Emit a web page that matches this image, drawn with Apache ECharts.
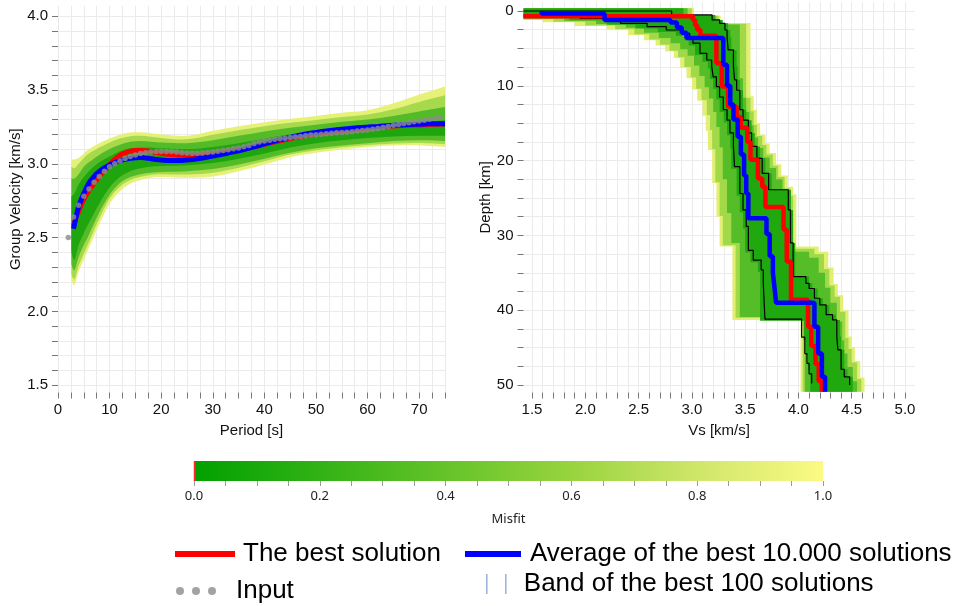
<!DOCTYPE html>
<html>
<head>
<meta charset="utf-8">
<script src="https://cdn.jsdelivr.net/npm/echarts@6/dist/echarts.min.js"></script>
<style>
html, body { margin: 0; padding: 0; background: #ffffff; }
#chart { width: 961px; height: 606px; }
</style>
</head>
<body>
<div id="chart"></div>
<script>
// ---------- Dispersion curve (group velocity vs period) ----------
const inputPeriods = [2,3,4,5,6,7,8,9,10,11,12,13,14,15,16,17,18,19,20,21,22,23,24,25,26,27,28,29,30,31,32,33,34,35,36,37,38,39,40,41,42,43,44,45,46,47,48,49,50,51,52,53,54,55,56,57,58,59,60,61,62,63,64,65,66,67,68,69,70,71,72,73,74];
const inputVelocity = [2.50,2.64,2.72,2.78,2.83,2.875,2.915,2.95,2.98,3.00,3.02,3.036,3.049,3.06,3.07,3.075,3.08,3.083,3.084,3.084,3.083,3.08,3.076,3.073,3.072,3.072,3.073,3.077,3.081,3.086,3.091,3.096,3.102,3.108,3.116,3.125,3.138,3.148,3.155,3.160,3.166,3.17,3.174,3.178,3.182,3.186,3.19,3.195,3.198,3.201,3.204,3.207,3.21,3.212,3.215,3.218,3.222,3.226,3.23,3.235,3.24,3.247,3.254,3.261,3.267,3.273,3.279,3.285,3.29,3.296,3.302,3.308,3.316];

const bestPeriods = [3,4,5,6,7,8,9,10,11,12,13,14,15,16,17,18,19,20,22,24,26,28,30,32,34,36,38,40,45,50,55,60,65,70,75];
const bestVelocity = [2.58,2.68,2.76,2.82,2.87,2.915,2.955,2.995,3.03,3.058,3.075,3.085,3.09,3.091,3.089,3.084,3.078,3.072,3.063,3.058,3.058,3.062,3.069,3.077,3.088,3.10,3.115,3.132,3.172,3.203,3.225,3.243,3.256,3.264,3.27];

const avgPeriods = [3,3.5,4,5,6,7,8,9,10,11,12,13,14,15,16,17,18,19,20,22,24,26,28,30,32,34,36,38,40,42,44,46,48,50,52,54,56,58,60,62,64,66,68,70,72,75];
const avgVelocity = [2.56,2.64,2.71,2.80,2.87,2.915,2.948,2.972,2.992,3.008,3.02,3.03,3.037,3.042,3.043,3.04,3.035,3.03,3.026,3.022,3.023,3.029,3.04,3.053,3.067,3.081,3.097,3.115,3.135,3.155,3.172,3.188,3.202,3.213,3.223,3.231,3.238,3.244,3.249,3.254,3.259,3.263,3.266,3.269,3.271,3.272];

// envelopes of the modelled curves, grouped by misfit (worst first)
const dispBandPeriods = [2.6,3.2,4,5,6,8,10,12,14,16,18,20,25,30,35,40,45,50,55,60,65,70,75];
const dispUpper = [
  [3.03,3.03,3.04,3.07,3.10,3.14,3.172,3.198,3.212,3.214,3.208,3.20,3.19,3.225,3.255,3.282,3.305,3.325,3.347,3.363,3.41,3.47,3.525],
  [2.98,2.97,3.00,3.04,3.07,3.11,3.145,3.172,3.187,3.19,3.184,3.176,3.166,3.197,3.227,3.255,3.278,3.298,3.318,3.335,3.37,3.42,3.465],
  [2.90,2.90,2.93,2.98,3.01,3.06,3.10,3.13,3.15,3.155,3.15,3.145,3.14,3.16,3.19,3.22,3.245,3.265,3.285,3.30,3.325,3.355,3.385],
  [2.78,2.80,2.86,2.91,2.95,3.01,3.05,3.085,3.105,3.11,3.11,3.105,3.10,3.115,3.14,3.17,3.20,3.22,3.235,3.25,3.265,3.28,3.295]
];
const dispLower = [
  [2.21,2.18,2.27,2.35,2.43,2.59,2.73,2.815,2.865,2.89,2.905,2.91,2.905,2.915,2.95,2.995,3.045,3.075,3.098,3.115,3.124,3.125,3.115],
  [2.25,2.22,2.31,2.39,2.47,2.63,2.765,2.845,2.89,2.912,2.925,2.93,2.928,2.94,2.973,3.017,3.063,3.092,3.113,3.128,3.138,3.141,3.133],
  [2.32,2.28,2.37,2.45,2.52,2.67,2.79,2.87,2.91,2.93,2.94,2.945,2.95,2.965,2.995,3.035,3.075,3.105,3.125,3.14,3.155,3.16,3.155],
  [2.40,2.35,2.45,2.53,2.60,2.73,2.84,2.91,2.95,2.97,2.98,2.985,2.99,3.005,3.035,3.07,3.11,3.14,3.16,3.175,3.185,3.19,3.19]
];

// ---------- Shear-velocity profiles: [Vs, top depth of layer] ----------
const bestProfile = [[1.42,0.7],[3.01,0.7],[3.03,1.2],[3.05,1.9],[3.08,2.5],[3.23,3.3],[3.28,7.0],[3.34,10.1],[3.42,12.8],[3.46,14.2],[3.52,15.6],[3.55,17.5],[3.62,19.9],[3.66,22.4],[3.69,23.5],[3.86,26.2],[3.89,29.2],[3.93,33.5],[4.09,38.6],[4.12,42.2],[4.16,44.8],[4.19,47.2],[4.22,49.5],[4.22,50.9]];
const avgProfile = [[1.59,0],[2.18,0.35],[2.80,1.2],[2.86,1.55],[2.905,2.2],[2.95,2.9],[3.295,3.6],[3.33,7.2],[3.36,10.0],[3.39,12.5],[3.43,14.5],[3.46,16.8],[3.49,19.2],[3.51,22.0],[3.53,24.4],[3.70,27.7],[3.73,29.8],[3.76,32.8],[3.775,35],[3.79,36.9],[4.15,39.0],[4.185,42.2],[4.22,45.8],[4.25,48.9],[4.25,50.9]];
const band100Slow = [[1.42,0.67],[1.95,0.67],[2.33,0.98],[2.58,1.65],[2.76,2.1],[2.92,2.54],[2.98,3.0],[3.01,3.65],[3.076,4.3],[3.14,5.66],[3.186,6.55],[3.20,7.4],[3.23,8.8],[3.26,10.1],[3.295,11.5],[3.33,13.2],[3.357,14.6],[3.39,16.3],[3.40,18.1],[3.45,20.8],[3.48,24.4],[3.51,26.6],[3.53,28.8],[3.576,32],[3.65,33.3],[3.67,34.6],[3.686,36.4],[4.03,41.2],[4.06,43.6],[4.08,45.8],[4.10,47.1],[4.124,48.5],[4.124,49.8]];
const band100Fast = [[1.42,0],[2.81,0],[3.19,0.53],[3.26,1.2],[3.31,1.65],[3.33,2.54],[3.34,3.43],[3.39,5.2],[3.40,7.4],[3.42,9.2],[3.45,10.6],[3.48,13.2],[3.53,14.6],[3.56,16.3],[3.61,18.1],[3.66,19.7],[3.72,21.7],[3.905,23.9],[3.925,26.6],[3.95,31],[4.07,35.5],[4.10,36.4],[4.15,37.1],[4.20,38.4],[4.26,39.3],[4.32,40.6],[4.36,41.3],[4.37,43.5],[4.40,45.3],[4.43,47.9],[4.48,48.9],[4.48,50.0]];

// envelopes of the tested profiles, grouped by misfit (worst first)
const vsBandSlow = [
  [[1.42,-0.35],[1.6,1.2],[1.9,1.5],[2.2,2.0],[2.4,2.5],[2.55,3.2],[2.66,3.9],[2.75,4.6],[2.83,5.4],[2.89,6.3],[2.95,7.6],[3.0,9],[3.05,10.5],[3.1,12],[3.13,14],[3.15,16],[3.19,18.6],[3.23,23],[3.26,27.5],[3.29,31.5],[3.38,31.5],[3.38,41.3],[4.02,41.3],[4.02,50.9]],
  [[1.42,-0.35],[1.42,1.05],[1.7,1.15],[2.0,1.45],[2.28,1.95],[2.46,2.45],[2.6,3.1],[2.7,3.8],[2.79,4.5],[2.87,5.3],[2.93,6.2],[2.99,7.5],[3.04,8.9],[3.09,10.4],[3.14,11.9],[3.17,13.9],[3.19,15.9],[3.22,18.5],[3.26,22.9],[3.29,27.4],[3.32,31.3],[3.41,31.3],[3.41,41.0],[4.04,41.0],[4.04,50.9]],
  [[1.42,-0.35],[1.42,0.95],[1.8,1.05],[2.1,1.3],[2.38,1.75],[2.55,2.25],[2.69,2.9],[2.8,3.6],[2.89,4.3],[2.96,5.1],[3.02,6.0],[3.07,7.3],[3.12,8.7],[3.16,10.2],[3.2,11.7],[3.23,13.5],[3.26,15.5],[3.29,18.2],[3.33,22.5],[3.37,27],[3.4,31],[3.45,31],[3.45,40.9],[4.06,40.9],[4.06,50.9]],
  [[1.42,-0.35],[1.42,0.85],[1.85,0.95],[2.2,1.25],[2.47,1.85],[2.68,2.35],[2.85,2.8],[2.93,3.3],[2.97,3.9],[3.03,4.6],[3.1,5.9],[3.15,6.8],[3.17,7.7],[3.2,9.1],[3.23,10.4],[3.26,11.8],[3.3,13.5],[3.33,14.9],[3.36,16.6],[3.37,18.4],[3.42,21.1],[3.45,24.7],[3.48,26.9],[3.5,29.1],[3.55,32.3],[3.62,33.6],[3.64,34.9],[3.66,41.4],[4.05,41.4],[4.07,44],[4.09,46],[4.11,48],[4.12,50.9]]
];
const vsBandFast = [
  [[1.42,-0.35],[3.02,-0.35],[3.02,0.6],[3.27,0.6],[3.27,1.6],[3.55,1.6],[3.55,9.6],[3.58,11.4],[3.61,13.2],[3.64,15],[3.69,16.5],[3.73,17.7],[3.79,19],[3.84,20.5],[3.9,22],[3.95,23.5],[3.98,24.5],[3.98,31.5],[4.19,31.5],[4.28,32.2],[4.33,34.3],[4.37,36.5],[4.42,38],[4.47,40],[4.5,43.5],[4.53,45],[4.58,46.8],[4.62,49],[4.66,50.9]],
  [[1.42,-0.35],[3.0,-0.35],[3.0,0.65],[3.25,0.65],[3.25,1.7],[3.51,1.7],[3.51,9.8],[3.55,11.6],[3.58,13.4],[3.61,15.2],[3.66,16.7],[3.7,17.9],[3.76,19.2],[3.81,20.7],[3.87,22.2],[3.92,23.7],[3.95,24.7],[3.95,31.8],[4.15,31.8],[4.24,32.5],[4.29,34.5],[4.34,36.7],[4.39,38.2],[4.44,40.2],[4.47,43.7],[4.5,45.2],[4.55,47],[4.59,49.2],[4.63,50.9]],
  [[1.42,-0.35],[2.96,-0.35],[2.96,0.7],[3.22,0.7],[3.22,1.8],[3.45,1.8],[3.45,6],[3.48,9],[3.51,11.6],[3.54,13.5],[3.58,15.3],[3.62,16.9],[3.67,18.3],[3.73,19.6],[3.79,21],[3.85,22.5],[3.9,24],[3.93,25],[3.93,32.2],[4.1,32.2],[4.19,33],[4.25,35],[4.3,37],[4.36,39],[4.41,41.5],[4.43,44],[4.46,45.8],[4.51,47.6],[4.55,49.5],[4.58,50.9]],
  [[1.42,-0.35],[2.92,-0.35],[2.92,0.53],[3.22,0.53],[3.29,1.2],[3.34,1.65],[3.36,2.54],[3.37,3.43],[3.42,5.2],[3.43,7.4],[3.45,9.2],[3.48,10.6],[3.51,13.2],[3.56,14.6],[3.59,16.3],[3.64,18.1],[3.69,19.7],[3.75,21.7],[3.93,23.9],[3.95,26.6],[3.97,31],[4.1,35.5],[4.13,36.4],[4.18,37.1],[4.23,38.4],[4.29,39.3],[4.35,40.6],[4.39,41.3],[4.4,43.5],[4.43,45.3],[4.46,47.9],[4.51,48.9],[4.53,50.9]]
];

// ---------- Misfit scale ----------
const misfitRange = [0, 1];
const bestMisfit = 0;

// ---------- Axis ticks and labels ----------
const periodTicks = [0,2.5,5,7.5,10,12.5,15,17.5,20,22.5,25,27.5,30,32.5,35,37.5,40,42.5,45,47.5,50,52.5,55,57.5,60,62.5,65,67.5,70,72.5,75];
const periodLabels = [0,10,20,30,40,50,60,70];
const velocityTicks = [1.5,1.6,1.7,1.8,1.9,2.0,2.1,2.2,2.3,2.4,2.5,2.6,2.7,2.8,2.9,3.0,3.1,3.2,3.3,3.4,3.5,3.6,3.7,3.8,3.9,4.0];
const velocityLabels = [1.5,2.0,2.5,3.0,3.5,4.0];
const vsTicks = [1.5,1.6,1.7,1.8,1.9,2.0,2.1,2.2,2.3,2.4,2.5,2.6,2.7,2.8,2.9,3.0,3.1,3.2,3.3,3.4,3.5,3.6,3.7,3.8,3.9,4.0,4.1,4.2,4.3,4.4,4.5,4.6,4.7,4.8,4.9,5.0];
const vsLabels = [1.5,2.0,2.5,3.0,3.5,4.0,4.5,5.0];
const depthTicks = [0,2.5,5,7.5,10,12.5,15,17.5,20,22.5,25,27.5,30,32.5,35,37.5,40,42.5,45,47.5,50];
const depthLabels = [0,10,20,30,40,50];
const misfitTicks = [0,0.05,0.1,0.15,0.2,0.25,0.3,0.35,0.4,0.45,0.5,0.55,0.6,0.65,0.7,0.75,0.8,0.85,0.9,0.95,1.0];
const misfitLabels = [0,0.2,0.4,0.6,0.8,1.0];

// ---------- Styling ----------
const FONT = 'Liberation Sans';
const dispBandColors = ['#e6f17a', '#a6d94b', '#52bb27', '#1fa60e'];
const vsBandColors = ['#e3ef74', '#a2d948', '#55bd28', '#20a80f'];
const misfitStops = [
  { offset: 0, color: '#00a000' },
  { offset: 0.3, color: '#4bbb1f' },
  { offset: 0.6, color: '#98d43e' },
  { offset: 0.8, color: '#cfe66a' },
  { offset: 1, color: '#fbfa85' }
];
const RED = '#ff0000';
const BLUE = '#0000ff';
const GREY = '#8c8c8c';

function axisStyle(ticks, labels, fmt, extra) {
  return Object.assign({
    type: 'value',
    axisLine: { show: false, onZero: false },
    axisTick: { show: true, length: 6, customValues: ticks, lineStyle: { color: '#777', width: 1 } },
    axisLabel: { customValues: labels, formatter: fmt, margin: 10, fontSize: 15, color: '#111', fontFamily: FONT },
    splitLine: { show: true, lineStyle: { color: '#ebebeb', width: 1 } },
    nameLocation: 'middle',
    nameTextStyle: { fontSize: 15, color: '#111', fontFamily: FONT }
  }, extra);
}

// staircase outline: Vs holds down to the next layer top, then jumps
function staircase(pts) {
  const out = [];
  for (let i = 0; i < pts.length; i++) {
    out.push(pts[i]);
    if (i + 1 < pts.length) out.push([pts[i][0], pts[i + 1][1]]);
  }
  return out;
}

// Catmull-Rom curve through pixel points, as cubic path segments
function curveSegments(pts) {
  let d = '';
  for (let i = 0; i < pts.length - 1; i++) {
    const p0 = pts[Math.max(i - 1, 0)], p1 = pts[i], p2 = pts[i + 1], p3 = pts[Math.min(i + 2, pts.length - 1)];
    const c1x = p1[0] + (p2[0] - p0[0]) / 6, c1y = p1[1] + (p2[1] - p0[1]) / 6;
    const c2x = p2[0] - (p3[0] - p1[0]) / 6, c2y = p2[1] - (p3[1] - p1[1]) / 6;
    d += ' C' + c1x + ',' + c1y + ' ' + c2x + ',' + c2y + ' ' + p2[0] + ',' + p2[1];
  }
  return d;
}

const series = [];

// dispersion envelopes
series.push({
  type: 'custom', xAxisIndex: 0, yAxisIndex: 0, silent: true, z: 1,
  data: dispUpper.map((u, k) => [k]),
  renderItem: (params, api) => {
    const k = params.dataIndex;
    const up = dispBandPeriods.map((p, i) => api.coord([p, dispUpper[k][i]]));
    const lo = dispBandPeriods.map((p, i) => api.coord([p, dispLower[k][i]])).reverse();
    const d = 'M' + up[0][0] + ',' + up[0][1] + curveSegments(up) +
      ' L' + lo[0][0] + ',' + lo[0][1] + curveSegments(lo) + ' Z';
    return { type: 'path', shape: { pathData: d }, style: { fill: dispBandColors[k] } };
  }
});

series.push({
  name: 'The best solution', type: 'line', xAxisIndex: 0, yAxisIndex: 0, z: 3,
  color: RED, showSymbol: false, smooth: 0.4, lineStyle: { width: 5, color: RED },
  data: bestPeriods.map((p, i) => [p, bestVelocity[i]])
});
series.push({
  name: 'Average of the best 10.000 solutions', type: 'line', xAxisIndex: 0, yAxisIndex: 0, z: 4,
  color: BLUE, showSymbol: false, smooth: 0.4, lineStyle: { width: 5, color: BLUE },
  data: avgPeriods.map((p, i) => [p, avgVelocity[i]])
});
series.push({
  name: 'Input', type: 'scatter', xAxisIndex: 0, yAxisIndex: 0, z: 5,
  color: GREY, symbol: 'circle', symbolSize: 5.5, itemStyle: { color: GREY },
  data: inputPeriods.map((p, i) => [p, inputVelocity[i]])
});

// Vs envelopes as staircase polygons
series.push({
  type: 'custom', xAxisIndex: 1, yAxisIndex: 1, silent: true, z: 1,
  data: vsBandSlow.map((b, k) => [k]),
  renderItem: (params, api) => {
    const k = params.dataIndex;
    const left = staircase(vsBandSlow[k]);
    const right = staircase(vsBandFast[k]).reverse();
    const pts = left.concat(right).map(p => api.coord(p));
    return { type: 'polygon', shape: { points: pts }, style: { fill: vsBandColors[k] } };
  }
});

[band100Slow, band100Fast].forEach(profile => {
  series.push({
    name: 'Band of the best 100 solutions', type: 'line', xAxisIndex: 1, yAxisIndex: 1, z: 2,
    color: '#000', step: 'start', showSymbol: false, lineStyle: { width: 1.2, color: '#000' },
    data: profile
  });
});
series.push({
  name: 'The best solution', type: 'line', xAxisIndex: 1, yAxisIndex: 1, z: 3,
  color: RED, step: 'start', showSymbol: false, lineStyle: { width: 4.5, color: RED },
  data: bestProfile
});
series.push({
  name: 'Average of the best 10.000 solutions', type: 'line', xAxisIndex: 1, yAxisIndex: 1, z: 4,
  color: BLUE, step: 'start', showSymbol: false, lineStyle: { width: 4.5, color: BLUE },
  data: avgProfile
});

// misfit colour bar
series.push({
  type: 'custom', xAxisIndex: 2, yAxisIndex: 2, silent: true,
  data: [[misfitRange[0], 0]],
  renderItem: (params, api) => {
    const a = api.coord([misfitRange[0], 1]);
    const b = api.coord([misfitRange[1], 0]);
    const m = api.coord([bestMisfit, 0]);
    return {
      type: 'group',
      children: [
        { type: 'rect', shape: { x: a[0], y: a[1], width: b[0] - a[0], height: b[1] - a[1] },
          style: { fill: new echarts.graphic.LinearGradient(0, 0, 1, 0, misfitStops) } },
        { type: 'line', shape: { x1: m[0] + 0.5, y1: a[1], x2: m[0] + 0.5, y2: b[1] },
          style: { stroke: '#ff2a2a', lineWidth: 1.5 } }
      ]
    };
  }
});

const legendText = { fontSize: 26, fontFamily: FONT, color: '#000' };
const dotsIcon = 'path://M0,4A4,4,0,1,1,8,4A4,4,0,1,1,0,4ZM16,4A4,4,0,1,1,24,4A4,4,0,1,1,16,4ZM32,4A4,4,0,1,1,40,4A4,4,0,1,1,32,4Z';
const barsIcon = 'path://M0,0H1.6V20H0ZM19,0H20.6V20H19Z';

const option = {
  animation: false,
  backgroundColor: '#ffffff',
  grid: [
    { left: 58, right: 516, top: 6, bottom: 213.5 },
    { left: 523.5, right: 46.4, top: 2, bottom: 213.5 },
    { left: 194, right: 138, top: 461, height: 20 }
  ],
  xAxis: [
    axisStyle(periodTicks, periodLabels, v => String(v),
      { gridIndex: 0, min: 0, max: 75, name: 'Period [s]', nameGap: 30.5 }),
    axisStyle(vsTicks, vsLabels, v => v.toFixed(1),
      { gridIndex: 1, min: 1.42, max: 5.09, name: 'Vs [km/s]', nameGap: 30.5 }),
    {
      type: 'value', gridIndex: 2, min: 0, max: 1,
      axisLine: { show: false, onZero: false },
      axisTick: { show: true, length: 5, customValues: misfitTicks, lineStyle: { color: '#999' } },
      axisLabel: { customValues: misfitLabels, formatter: v => v.toFixed(1), margin: 9, fontSize: 13, color: '#222', fontFamily: 'Noto Sans' },
      splitLine: { show: false },
      name: 'Misfit', nameLocation: 'middle', nameGap: 32,
      nameTextStyle: { fontSize: 13, color: '#222', fontFamily: 'Noto Sans' }
    }
  ],
  yAxis: [
    axisStyle(velocityTicks, velocityLabels, v => v.toFixed(1),
      { gridIndex: 0, min: 1.45, max: 4.07, name: 'Group Velocity [km/s]', nameGap: 32 }),
    axisStyle(depthTicks, depthLabels, v => String(v),
      { gridIndex: 1, min: -1.2, max: 51, inverse: true, name: 'Depth [km]', nameGap: 28.5 }),
    { type: 'value', gridIndex: 2, min: 0, max: 1, show: false }
  ],
  legend: [
    { left: 175, top: 541, padding: 0, selectedMode: false, itemWidth: 60, itemHeight: 6,
      textStyle: Object.assign({ padding: [0, 0, 0, 3] }, legendText),
      data: [{ name: 'The best solution', icon: 'rect' }] },
    { left: 465, top: 541, padding: 0, selectedMode: false, itemWidth: 56, itemHeight: 6,
      textStyle: Object.assign({ padding: [0, 0, 0, 4] }, legendText),
      data: [{ name: 'Average of the best 10.000 solutions', icon: 'rect' }] },
    { left: 176, top: 578, padding: 0, selectedMode: false, itemWidth: 40, itemHeight: 8,
      textStyle: Object.assign({ padding: [0, 0, 0, 15] }, legendText),
      data: [{ name: 'Input', icon: dotsIcon, itemStyle: { color: GREY } }] },
    { left: 486, top: 571, padding: 0, selectedMode: false, itemWidth: 21, itemHeight: 20,
      textStyle: Object.assign({ padding: [0, 0, 0, 12] }, legendText),
      data: [{ name: 'Band of the best 100 solutions', icon: barsIcon, itemStyle: { color: '#9fb4dc' } }] }
  ],
  series: series
};

const chart = echarts.init(document.getElementById('chart'), null, { renderer: 'canvas' });
chart.setOption(option);
</script>
</body>
</html>
